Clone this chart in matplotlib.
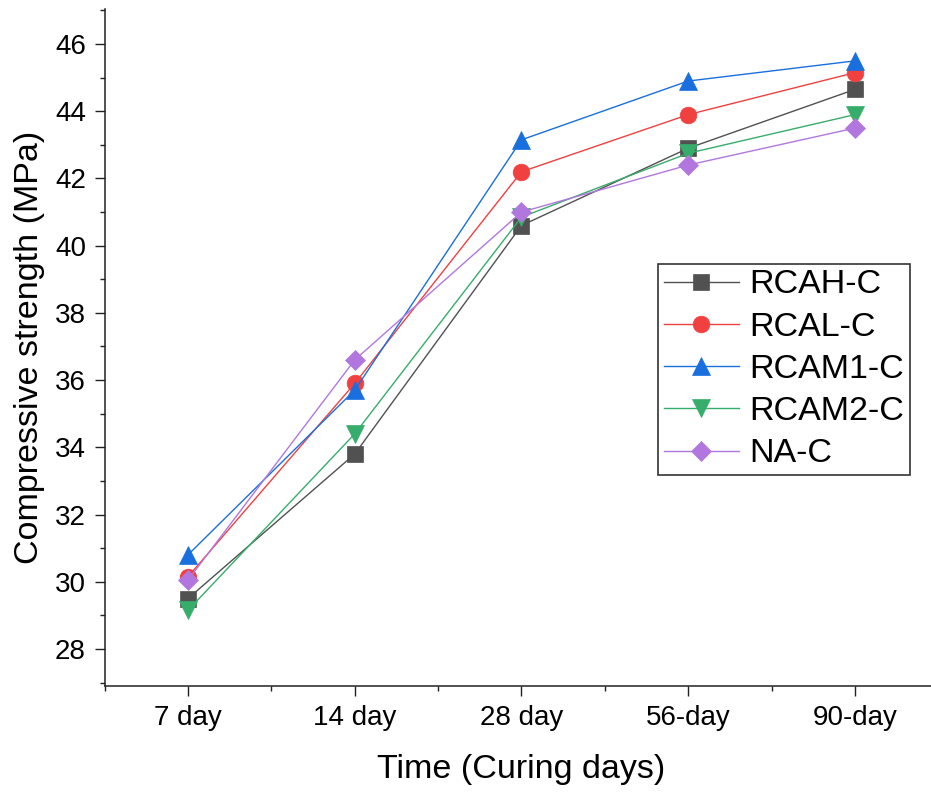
import matplotlib
matplotlib.use("Agg")
import matplotlib.pyplot as plt
from matplotlib.ticker import MultipleLocator, FixedLocator

plt.rcParams['font.family'] = ['Liberation Sans', 'DejaVu Sans']

# Curing ages and compressive strength (MPa) of each concrete mix
ages = ["7 day", "14 day", "28 day", "56-day", "90-day"]
rcah_c = [29.5, 33.8, 40.6, 42.9, 44.65]
rcal_c = [30.15, 35.9, 42.2, 43.9, 45.15]
rcam1_c = [30.8, 35.7, 43.15, 44.9, 45.5]
rcam2_c = [29.15, 34.4, 40.85, 42.75, 43.9]
na_c = [30.05, 36.6, 41.0, 42.4, 43.5]

series = [
    ("RCAH-C", rcah_c, "#515151", "s", 11.0),
    ("RCAL-C", rcal_c, "#F14040", "o", 12.0),
    ("RCAM1-C", rcam1_c, "#1A6FDF", "^", 13.5),
    ("RCAM2-C", rcam2_c, "#37AD6B", "v", 13.0),
    ("NA-C", na_c, "#B177DE", "D", 10.0),
]

fig = plt.figure(figsize=(9.31, 7.92), dpi=100)
ax = fig.add_axes([0.1124, 0.134, 0.8954, 0.8549])

x = list(range(1, len(ages) + 1))
for name, vals, color, marker, ms in series:
    ax.plot(x, vals, color=color, lw=1.0, marker=marker, markersize=ms,
            markerfacecolor=color, markeredgecolor=color, markeredgewidth=0.5,
            label=name)

ax.set_xlim(0.5, 5.5)
ax.set_ylim(26.9, 47.05)
ax.xaxis.set_major_locator(FixedLocator(x))
ax.set_xticklabels(ages)
ax.xaxis.set_minor_locator(FixedLocator([0.5, 1.5, 2.5, 3.5, 4.5, 5.5]))
ax.yaxis.set_major_locator(MultipleLocator(2))
ax.yaxis.set_minor_locator(MultipleLocator(1))

for side in ("top", "right"):
    ax.spines[side].set_visible(False)
for side in ("left", "bottom"):
    ax.spines[side].set_linewidth(1.1)
    ax.spines[side].set_color("#222222")

ax.tick_params(which="major", direction="out", length=7.5, width=1.0,
               color="#222222", labelsize=20)
ax.tick_params(which="minor", direction="out", length=3.5, width=1.0,
               color="#222222")
ax.tick_params(axis="y", which="major", pad=6)
ax.tick_params(axis="x", which="major", pad=6)

ax.set_xlabel("Time (Curing days)", fontsize=24.5, labelpad=16.5)
ax.set_ylabel("Compressive strength (MPa)", fontsize=24.5, labelpad=7)

leg = ax.legend(loc="upper left", bbox_to_anchor=(0.664, 0.6235),
                borderaxespad=0, fontsize=24.5, frameon=True, fancybox=False,
                framealpha=1, edgecolor="#333333", handlelength=2.2,
                handletextpad=0.3, labelspacing=0.33, borderpad=0.17)
leg.get_frame().set_linewidth(1.2)

fig.savefig("out.png", dpi=100)
